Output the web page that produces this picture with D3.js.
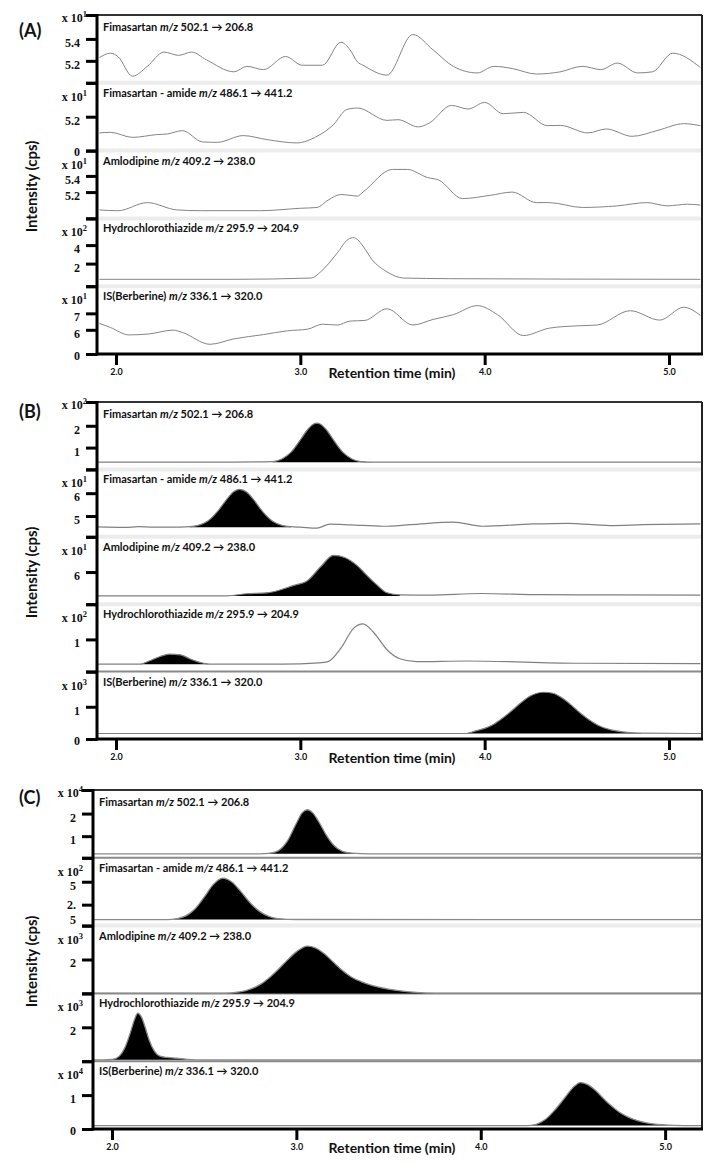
<!DOCTYPE html>
<html><head><meta charset="utf-8">
<script src="https://cdn.jsdelivr.net/npm/d3@7"></script>
<style>body{margin:0;background:#fff}svg{display:block}</style>
</head><body><svg id="c" width="715" height="1176"></svg>
<script>
// ---------------- DATA ----------------
const panelTitles = ["(A)", "(B)", "(C)"];
const compoundNames = ["Fimasartan", "Fimasartan - amide", "Amlodipine", "Hydrochlorothiazide", "IS(Berberine)"];
const transitions = ["502.1 \u2192 206.8", "486.1 \u2192 441.2", "409.2 \u2192 238.0", "295.9 \u2192 204.9", "336.1 \u2192 320.0"];
const xTickValues = [2.0, 3.0, 4.0, 5.0];
const xAxisTitle = "Retention time (min)";
const yAxisTitle = "Intensity (cps)";

// Panel A (blank) traces: [time (min), intensity in axis units]
const trA1 = [[1.91,5.23],[1.97,5.27],[2.01,5.24],[2.09,5.06],[2.17,5.15],[2.26,5.28],[2.34,5.25],[2.41,5.28],[2.49,5.21],[2.64,5.10],[2.71,5.15],[2.80,5.12],[2.92,5.24],[3.01,5.16],[3.12,5.16],[3.22,5.37],[3.27,5.30],[3.31,5.19],[3.34,5.16],[3.47,5.07],[3.61,5.44],[3.72,5.30],[3.83,5.15],[3.96,5.09],[4.05,5.15],[4.15,5.13],[4.28,5.08],[4.41,5.10],[4.53,5.15],[4.63,5.12],[4.72,5.18],[4.83,5.09],[4.91,5.10],[5.02,5.27],[5.17,5.14]];
const trA2 = [[1.91,2.71],[1.97,2.80],[2.09,2.03],[2.22,2.45],[2.28,2.56],[2.36,3.06],[2.47,1.33],[2.55,1.27],[2.69,2.30],[2.82,1.68],[2.98,1.18],[3.09,2.19],[3.18,3.98],[3.25,6.27],[3.31,6.53],[3.47,4.64],[3.53,4.74],[3.64,3.63],[3.70,4.24],[3.82,6.93],[3.91,6.38],[4.00,7.39],[4.10,5.66],[4.21,5.86],[4.34,3.83],[4.41,3.87],[4.56,2.71],[4.66,3.32],[4.80,2.19],[4.94,3.11],[5.08,4.13],[5.17,3.83]];
const trA3 = [[1.91,4.98],[2.01,4.97],[2.17,5.07],[2.33,4.98],[2.46,4.97],[2.78,4.97],[3.00,5.00],[3.09,5.01],[3.15,5.10],[3.22,5.17],[3.27,5.16],[3.31,5.15],[3.34,5.20],[3.50,5.48],[3.58,5.48],[3.69,5.38],[3.75,5.35],[3.88,5.12],[4.03,5.16],[4.15,5.20],[4.28,5.07],[4.35,5.07],[4.53,5.01],[4.72,5.03],[4.88,5.07],[4.99,5.03],[5.10,5.05],[5.17,5.04]];
const trA4 = [[1.91,0.30],[2.64,0.30],[3.06,0.44],[3.11,1.11],[3.20,3.14],[3.26,4.63],[3.29,4.81],[3.31,4.60],[3.34,3.89],[3.39,2.41],[3.47,1.11],[3.56,0.44],[3.81,0.37],[5.17,0.30]];
const trA5 = [[1.91,6.39],[1.97,6.14],[2.07,5.69],[2.18,5.75],[2.31,5.98],[2.36,5.84],[2.51,5.12],[2.64,5.45],[2.80,5.71],[2.93,5.94],[3.04,6.04],[3.12,6.34],[3.20,6.29],[3.27,6.53],[3.35,6.57],[3.47,7.28],[3.61,6.29],[3.72,6.63],[3.83,6.92],[3.96,7.47],[4.07,6.92],[4.21,5.65],[4.35,6.10],[4.50,6.24],[4.61,6.29],[4.79,7.16],[4.95,6.59],[5.08,7.37],[5.17,6.88]];

// Panel B traces
const trB1 = [[1.90,0.33],[2.50,0.33],[2.85,0.36],[2.90,0.48],[2.95,0.79],[3.00,1.35],[3.04,1.83],[3.07,2.07],[3.09,2.12],[3.11,2.07],[3.14,1.83],[3.18,1.35],[3.23,0.79],[3.28,0.48],[3.33,0.36],[3.40,0.33],[4.00,0.33],[5.18,0.33]];
const trB2 = [[1.90,4.52],[2.05,4.50],[2.12,4.53],[2.20,4.51],[2.35,4.51],[2.40,4.53],[2.45,4.60],[2.50,4.79],[2.55,5.19],[2.60,5.72],[2.64,6.07],[2.67,6.17],[2.71,6.04],[2.75,5.68],[2.80,5.15],[2.85,4.77],[2.90,4.59],[2.95,4.53],[3.00,4.51],[3.09,4.47],[3.16,4.64],[3.27,4.61],[3.45,4.55],[3.60,4.62],[3.83,4.73],[3.99,4.55],[4.26,4.65],[4.45,4.68],[4.68,4.58],[4.86,4.62],[5.17,4.65]];
const trB3 = [[1.90,5.00],[2.60,5.00],[2.71,5.09],[2.82,5.13],[2.96,5.43],[3.04,5.65],[3.11,6.22],[3.18,6.70],[3.24,6.61],[3.31,6.26],[3.36,5.87],[3.42,5.43],[3.47,5.13],[3.54,5.04],[3.70,5.03],[3.98,5.10],[4.30,5.05],[4.70,5.04],[5.17,5.03]];
const trB4 = [[1.90,0.23],[2.13,0.23],[2.18,0.33],[2.24,0.47],[2.29,0.54],[2.35,0.52],[2.40,0.40],[2.46,0.28],[2.51,0.23],[2.90,0.23],[3.10,0.27],[3.15,0.31],[3.22,0.73],[3.29,1.35],[3.34,1.48],[3.40,1.20],[3.47,0.68],[3.54,0.40],[3.63,0.31],[3.90,0.33],[4.50,0.26],[5.17,0.25]];
const trB5 = [[1.90,0.17],[3.90,0.17],[3.95,0.25],[4.00,0.33],[4.05,0.46],[4.10,0.66],[4.15,0.89],[4.20,1.14],[4.25,1.34],[4.32,1.45],[4.37,1.42],[4.42,1.27],[4.47,1.05],[4.52,0.80],[4.57,0.58],[4.62,0.41],[4.68,0.29],[4.75,0.22],[4.85,0.18],[5.18,0.17]];

// Panel C traces
const trC1 = [[1.90,0.22],[2.80,0.22],[2.85,0.24],[2.90,0.35],[2.95,0.77],[3.00,1.57],[3.03,2.02],[3.06,2.17],[3.09,2.02],[3.12,1.66],[3.16,1.08],[3.20,0.62],[3.25,0.33],[3.30,0.25],[3.40,0.22],[5.20,0.22]];
const trC2 = [[1.90,0.87],[2.30,0.87],[2.35,0.97],[2.40,1.27],[2.45,2.03],[2.50,3.31],[2.55,4.71],[2.60,5.39],[2.65,4.98],[2.70,3.90],[2.75,2.68],[2.80,1.77],[2.85,1.23],[2.90,0.98],[3.00,0.88],[5.20,0.87]];
const trC3 = [[1.90,0],[2.60,0],[2.65,0.03],[2.70,0.10],[2.75,0.25],[2.80,0.50],[2.85,0.90],[2.90,1.40],[2.95,1.95],[3.00,2.45],[3.06,2.79],[3.10,2.70],[3.15,2.35],[3.20,1.85],[3.25,1.35],[3.30,0.95],[3.35,0.70],[3.40,0.50],[3.50,0.25],[3.60,0.10],[3.70,0.02],[3.80,0],[5.20,0]];
const trC4 = [[1.90,0.08],[1.95,0.08],[2.00,0.10],[2.04,0.30],[2.07,0.80],[2.10,1.70],[2.12,2.40],[2.14,2.83],[2.16,2.60],[2.18,2.00],[2.20,1.30],[2.23,0.60],[2.26,0.30],[2.30,0.22],[2.35,0.18],[2.40,0.12],[2.45,0.08],[5.20,0.08]];
const trC5 = [[1.90,0.10],[4.25,0.10],[4.30,0.14],[4.35,0.28],[4.40,0.55],[4.45,0.88],[4.50,1.22],[4.54,1.37],[4.58,1.31],[4.62,1.15],[4.66,0.93],[4.70,0.72],[4.75,0.50],[4.80,0.35],[4.85,0.25],[4.90,0.18],[5.00,0.12],[5.10,0.10],[5.20,0.10]];

// Axis ranges, tick values, labels, exponents
const xDomainsAll = [[1.897,5.179],[1.897,5.179],[1.897,5.2]];
const yDomainsA = [[5.0,5.618],[0,10.4],[4.875,5.7125],[-0.444,6.889],[4.53,8.65]];
const yDomainsB = [[0,3.09],[4.087,7.043],[4.652,7.478],[0,2.094],[0,2.091]];
const yDomainsC = [[0.043,3.043],[0.217,7.609],[0,4],[0,4],[0,2]];
const yTicksA = [[5.4,5.2],[5.2],[5.4,5.2],[4,2],[7,6]];
const yTicksB = [[2,1],[6,5],[6],[1],[1]];
const yTicksC = [[2,1],[5,2.5],[2],[2],[1]];
const yTickLabelsA = [["5.4","5.2"],["5.2"],["5.4","5.2"],["4","2"],["7","6"]];
const yTickLabelsB = [["2","1"],["6","5"],["6"],["1"],["1"]];
const yTickLabelsC = [["2","1"],["5","2.\n5"],["2"],["2"],["1"]];
const baseLabelsA = ["","0","","","0"];
const baseLabelsB = ["","","","","0"];
const baseLabelsC = ["","","","","0"];
const exponentsA = ["1","1","1","2","1"];
const exponentsB = ["2","1","1","2","3"];
const exponentsC = ["4","2","3","3","4"];
// filled peak windows (min) and baseline level (axis units); null = line only
const fillWindowsA = [null,null,null,null,null];
const fillWindowsB = [[2.8,3.42],[2.36,2.98],[2.55,3.6],[2.1,2.53],[3.88,4.9]];
const fillWindowsC = [[2.8,3.45],[2.3,3.05],[2.58,3.82],[1.93,2.5],[4.2,5.2]];
const fillBasesB = [0.33,4.51,5.0,0.23,0.17];
const fillBasesC = [0.22,0.87,0,0.08,0.10];

// ---------------- LAYOUT / STYLE ----------------
const layouts = [
  {top:15, bottom:354, left:97, right:702, letterY:37, lineColor:"#858585", lineWidth:1, sepDark:[0,0,0,0]},
  {top:402, bottom:739, left:97, right:702, letterY:418, lineColor:"#808080", lineWidth:1.2, sepDark:[0,0,0,1]},
  {top:790, bottom:1129, left:93, right:702, letterY:804, lineColor:"#8a8a8a", lineWidth:1.3, sepDark:[1,0,1,1]}
];
const panelData = [
  {traces:[trA1,trA2,trA3,trA4,trA5], yDomains:yDomainsA, yTicks:yTicksA, yLabels:yTickLabelsA, base:baseLabelsA, exps:exponentsA, fills:fillWindowsA, fillBases:[0,0,0,0,0]},
  {traces:[trB1,trB2,trB3,trB4,trB5], yDomains:yDomainsB, yTicks:yTicksB, yLabels:yTickLabelsB, base:baseLabelsB, exps:exponentsB, fills:fillWindowsB, fillBases:fillBasesB},
  {traces:[trC1,trC2,trC3,trC4,trC5], yDomains:yDomainsC, yTicks:yTicksC, yLabels:yTickLabelsC, base:baseLabelsC, exps:exponentsC, fills:fillWindowsC, fillBases:fillBasesC}
];

const svg = d3.select("#c");
const SANS = "Lato, 'Open Sans', sans-serif";
const SERIF = "'Liberation Serif', 'DejaVu Serif', serif";
const defs = svg.append("defs");

panelData.forEach((pd, pi) => {
  const L = layouts[pi];
  const g = svg.append("g");
  const x = d3.scaleLinear().domain(xDomainsAll[pi]).range([L.left, L.right]);
  const h = (L.bottom - L.top) / 5;

  defs.append("clipPath").attr("id", "clip" + pi)
    .append("rect").attr("x", L.left).attr("y", L.top).attr("width", L.right - L.left).attr("height", L.bottom - L.top);

  const plot = g.append("g").attr("clip-path", "url(#clip" + pi + ")");

  // separators
  for (let i = 1; i < 5; i++) {
    const yy = L.top + h * i;
    plot.append("line").attr("x1", L.left).attr("x2", L.right).attr("y1", yy).attr("y2", yy)
      .attr("stroke", L.sepDark[i-1] ? "#8a8a8a" : "#ececec")
      .attr("stroke-width", L.sepDark[i-1] ? 2 : 4);
  }

  pd.traces.forEach((tr, i) => {
    const y0 = L.top + h * i, y1 = y0 + h;
    const y = d3.scaleLinear().domain(pd.yDomains[i]).range([y1, y0]);

    if (pd.fills[i]) {
      const [a, b] = pd.fills[i];
      const pts = tr.filter(d => d[0] >= a && d[0] <= b);
      const area = d3.area().x(d => x(d[0])).y0(y(pd.fillBases[i])).y1(d => y(d[1])).curve(d3.curveMonotoneX);
      plot.append("path").datum(pts).attr("d", area).attr("fill", "#000");
    }
    const line = d3.line().x(d => x(d[0])).y(d => y(d[1])).curve(d3.curveMonotoneX);
    plot.append("path").datum(tr).attr("d", line).attr("fill", "none")
      .attr("stroke", L.lineColor).attr("stroke-width", L.lineWidth);

    // y axis per sub-panel
    const dom = pd.yDomains[i];
    const vals = [dom[1], ...pd.yTicks[i], dom[0]];
    const labs = ["", ...pd.yLabels[i], pd.base[i]];
    const labMap = new Map(vals.map((v, k) => [v, labs[k]]));
    const ax = d3.axisLeft(y).tickValues(vals).tickSize(11).tickPadding(6).tickFormat(d => labMap.get(d));
    const ag = g.append("g").attr("transform", `translate(${L.left},0)`).call(ax);
    ag.select(".domain").remove();
    ag.selectAll(".tick line").attr("stroke", "#000").attr("stroke-width", 3);
    ag.selectAll(".tick text").attr("font-family", SERIF).attr("font-weight", "bold")
      .attr("font-size", 12).attr("fill", "#111")
      .attr("dy", d => d === dom[0] ? "0.42em" : "0.62em")
      .each(function() {
        const t = d3.select(this); const s = t.text();
        if (s.includes("\n")) {
          const parts = s.split("\n"); t.text(null);
          parts.forEach((p, k) => t.append("tspan").attr("x", -17).attr("dy", k === 0 ? "0.3em" : "1.25em").text(p));
        }
      });

    // exponent label
    const ey = (i === 0 ? y0 + 3 : y0 + 14) + 4;
    const et = g.append("text").attr("x", L.left - 10).attr("y", ey).attr("text-anchor", "end")
      .attr("font-family", SERIF).attr("font-weight", "bold").attr("font-size", 12).attr("fill", "#111");
    et.append("tspan").text("x 10");
    et.append("tspan").attr("dy", -5).attr("font-size", 8.5).text(pd.exps[i]);

    // compound label
    const ct = g.append("text").attr("x", L.left + 6).attr("y", (i === 0 ? y0 + 12 : y0 + 10) + 4)
      .attr("font-family", SANS).attr("font-weight", "bold").attr("font-size", 11).attr("fill", "#111");
    ct.append("tspan").text(compoundNames[i] + " ");
    ct.append("tspan").attr("font-style", "italic").text("m/z");
    ct.append("tspan").text(" " + transitions[i]);
  });

  // frame
  g.append("line").attr("x1", L.left).attr("x2", L.right).attr("y1", L.top).attr("y2", L.top).attr("stroke", "#333").attr("stroke-width", 2);
  g.append("line").attr("x1", L.right).attr("x2", L.right).attr("y1", L.top).attr("y2", L.bottom).attr("stroke", "#222").attr("stroke-width", 2);
  g.append("line").attr("x1", L.left).attr("x2", L.left).attr("y1", L.top - 1).attr("y2", L.bottom + 1.5).attr("stroke", "#000").attr("stroke-width", 3);

  // x axis
  const xa = d3.axisBottom(x).tickValues(xTickValues).tickSize(11).tickPadding(4).tickFormat(d3.format(".1f"));
  const xg = g.append("g").attr("transform", `translate(0,${L.bottom})`).call(xa);
  xg.select(".domain").remove();
  g.append("line").attr("x1", L.left).attr("x2", L.right + 1).attr("y1", L.bottom).attr("y2", L.bottom).attr("stroke", "#000").attr("stroke-width", 3);
  xg.selectAll(".tick line").attr("stroke", "#000").attr("stroke-width", 3);
  xg.selectAll(".tick text").attr("font-family", SANS).attr("font-weight", "bold").attr("font-size", 9).attr("fill", "#111");

  // titles
  g.append("text").attr("x", 392).attr("y", L.bottom + 24).attr("text-anchor", "middle")
    .attr("font-family", SANS).attr("font-weight", "bold").attr("font-size", 14).attr("fill", "#111").text(xAxisTitle);
  g.append("text").attr("transform", `translate(37,${(L.top + L.bottom) / 2 + 2}) rotate(-90)`).attr("text-anchor", "middle")
    .attr("font-family", SANS).attr("font-weight", "bold").attr("font-size", 15).attr("fill", "#111").text(yAxisTitle);
  g.append("text").attr("x", 19).attr("y", L.letterY)
    .attr("font-family", SANS).attr("font-weight", "bold").attr("font-size", 18).attr("fill", "#111").text(panelTitles[pi]);
});
</script>
</body></html>
